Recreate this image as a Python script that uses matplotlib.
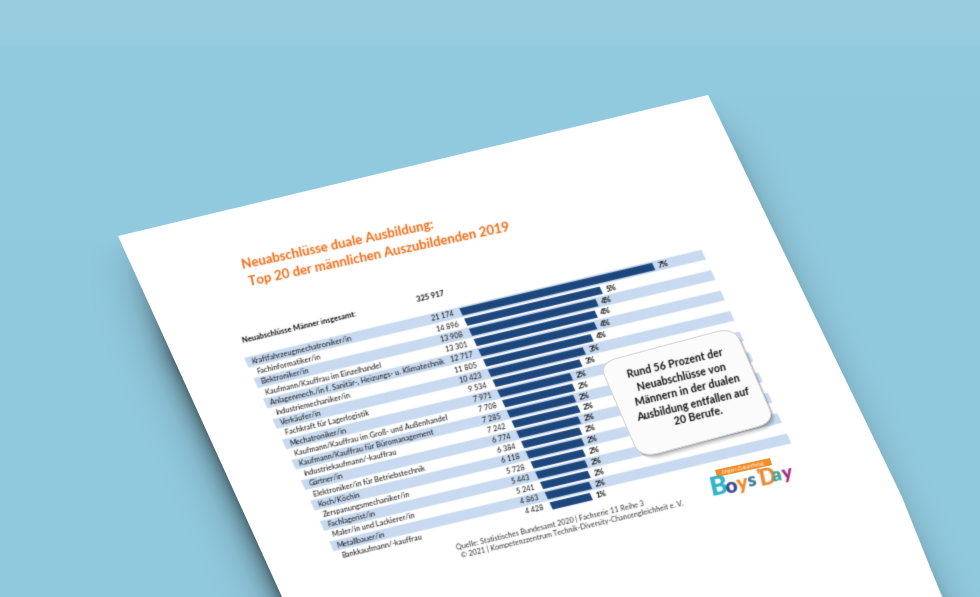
import numpy as np
import matplotlib
matplotlib.use('Agg')
import matplotlib.pyplot as plt
from matplotlib.patches import Polygon, FancyBboxPatch
from matplotlib.transforms import Affine2D

berufe = [
    'Kraftfahrzeugmechatroniker/in', 'Fachinformatiker/in', 'Elektroniker/in',
    'Kaufmann/Kauffrau im Einzelhandel',
    'Anlagenmech./in f. Sanitär-, Heizungs- u. Klimatechnik',
    'Industriemechaniker/in', 'Verkäufer/in', 'Fachkraft für Lagerlogistik',
    'Mechatroniker/in', 'Kaufmann/Kauffrau im Groß- und Außenhandel',
    'Kaufmann/Kauffrau für Büromanagement', 'Industriekaufmann/-kauffrau',
    'Gärtner/in', 'Elektroniker/in für Betriebstechnik', 'Koch/Köchin',
    'Zerspanungsmechaniker/in', 'Fachlagerist/in', 'Maler/in und Lackierer/in',
    'Metallbauer/in', 'Bankkaufmann/-kauffrau',
]
neuabschluesse = [21174, 14896, 13908, 13301, 12717, 11805, 10423, 9534, 7971, 7708,
                  7285, 7242, 6774, 6384, 6118, 5728, 5443, 5241, 4863, 4428]
prozent = [7, 5, 4, 4, 4, 4, 3, 3, 2, 2, 2, 2, 2, 2, 2, 2, 2, 2, 2, 1]
gesamt = 325917
titel = ['Neuabschlüsse duale Ausbildung:', 'Top 20 der männlichen Auszubildenden 2019']
quelle = ['Quelle: Statistisches Bundesamt 2020 | Fachserie 11 Reihe 3',
          '© 2021 | Kompetenzzentrum Technik-Diversity-Chancengleichheit e. V.']
hinweis = ['Rund 56 Prozent der', 'Neuabschlüsse von', 'Männern in der dualen',
           'Ausbildung entfallen auf', '20 Berufe.']

W, H = 980, 597
ROT = 13.3
NAVY = '#1c467c'
STRIPE = '#c8daf0'
ORANGE = '#f26a12'
TEXT = '#111111'


def fmt(v):
    return f'{v:,}'.replace(',', ' ')


def soft(im, dpi, sigma=0.55, pad=3):
    # the picture is a scaled screenshot, so everything on the sheet is a bit blurred
    im = np.pad(im, [(pad, pad), (pad, pad), (0, 0)], 'constant')
    x = np.arange(-pad, pad + 1)
    k = np.exp(-x ** 2 / (2 * sigma ** 2))
    k /= k.sum()
    rgba = im.copy()
    rgba[..., :3] *= rgba[..., 3:]
    for axis in (0, 1):
        rgba = np.apply_along_axis(lambda m: np.convolve(m, k, mode='same'), axis, rgba)
    a = np.maximum(rgba[..., 3:], 1e-4)
    rgba[..., :3] = np.clip(rgba[..., :3] / a, 0, 1)
    return rgba, -pad, -pad


fig = plt.figure(figsize=(W / 100, H / 100), dpi=100)
ax = fig.add_axes([0, 0, 1, 1])
ax.axis('off')

# background with the lighter band on top and the shadow of the sheet
yy, xx = np.mgrid[0:H, 0:W]
bg = np.zeros((H, W, 3))
bg[..., 0], bg[..., 1], bg[..., 2] = 145, 201, 222
bg[yy < 46] = [151, 204, 223]
left_dist = (xx - 118) - (yy - 236) * 164 / 361
fade = np.clip((yy - 240) / 120, 0, 1)
left_sh = np.exp(np.minimum(left_dist, 0) / 14) * fade * (left_dist < 0)
right_dist = (xx - 708) - (yy - 95) * 234 / 502
right_sh = np.exp(-np.maximum(right_dist, 0) / 12) * (right_dist > 0) * np.clip((yy - 95) / 60, 0, 1)
shade = 1 - 0.5 * left_sh - 0.14 * right_sh
bg = bg * shade[..., None]
ax.imshow(bg.astype(np.uint8), extent=[0, W, H, 0], aspect='auto', zorder=0, interpolation='bilinear')

ax.add_patch(Polygon([(118, 236), (708, 95), (865, 420), (902, 497), (942, 597), (282, 597)],
                     closed=True, fc='white', ec='none', zorder=1))

# value/row -> picture, the chart sits rotated on the sheet
tr = Affine2D().from_values(0.0091, -0.00215, 4.74, 10.21, 461, 312) + ax.transData

rows = np.arange(len(berufe))
stripes = ax.barh(rows[::2], [50280] * len(rows[::2]), left=-23600, height=0.95, color=STRIPE,
                  transform=tr, zorder=2)
bars = ax.barh(rows, neuabschluesse, height=0.7, color=NAVY, transform=tr, zorder=3)
for p in list(stripes) + list(bars):
    p.set_agg_filter(soft)

kw = dict(transform=tr, rotation=ROT, rotation_mode='anchor', va='center', zorder=4,
          family='Lato', color=TEXT)
for i, (name, val, pct) in enumerate(zip(berufe, neuabschluesse, prozent)):
    ax.text(-23000, i, name, ha='left', fontsize=5.4, **kw)
    ax.text(-800, i, fmt(val), ha='right', fontsize=5.2, **kw)
    ax.text(val + 500, i, f'{pct}%', ha='left', fontsize=5.6, fontweight='bold', **kw)
ax.text(-23000, -2, 'Neuabschlüsse Männer insgesamt:', ha='left', fontsize=5.5, fontweight='bold', **kw)
ax.text(-800, -2, fmt(gesamt), ha='right', fontsize=5.5, fontweight='bold', **kw)

for (x, y), s in zip([(243, 269), (250, 286)], titel):
    ax.text(x, y, s, color=ORANGE, fontsize=9.5, fontweight='bold', family='Lato',
            rotation=12, rotation_mode='anchor', va='baseline', ha='left', zorder=4)

for (x, y), s in zip([(457, 550), (462, 558)], quelle):
    ax.text(x, y, s, color='#333333', fontsize=5.2, family='Lato',
            rotation=ROT, rotation_mode='anchor', va='baseline', ha='left', zorder=4)

# callout
box = Affine2D().from_values(135, -36, 41, 95, 599, 363)
for off, alpha in zip([5, 4, 3, 2, 1], [0.05, 0.07, 0.1, 0.14, 0.18]):
    ax.add_patch(FancyBboxPatch((0, 0), 1, 1, boxstyle='round,pad=0,rounding_size=0.14',
                                transform=box + Affine2D().translate(off, off) + ax.transData,
                                fc='#404040', ec='none', alpha=alpha, zorder=5))
ax.add_patch(FancyBboxPatch((0, 0), 1, 1, boxstyle='round,pad=0,rounding_size=0.14',
                            transform=box + ax.transData, fc='#fbfbfb', ec='#d8d8d8', lw=0.8, zorder=6))
for (x, y), s in zip([(675, 363), (682, 377), (687, 390), (693, 404), (698, 416)], hinweis):
    ax.text(x, y, s, ha='center', va='center', rotation=ROT, rotation_mode='anchor',
            fontsize=7.7, fontweight='bold', family='Lato', color='#111111', zorder=7)

# logo
ax.add_patch(Polygon([(715, 470), (770, 458), (772, 465), (717, 477)], closed=True,
                     fc='#f28c28', ec='none', zorder=4))
ax.text(743.5, 467.5, 'Jungen-Zukunftstag', color='white', fontsize=3.6, family='Lato', ha='center',
        va='center', rotation=12, rotation_mode='anchor', zorder=5)
logo = ["B", "o", "y", "s", "'", "D", "a", "y"]
logo_x = [718, 731, 742, 752, 759, 767, 776, 786]
logo_y = [486, 486, 484, 481, 477, 478, 476, 474]
logo_size = [19, 15, 15, 14, 14, 16, 14, 14]
logo_c = ['#2fb4c6', '#3b4a8c', '#f08a24', '#3d7391', '#f08a24', '#e8892e', '#3fa39a', '#a6287f']
for ch, x, y, s, c in zip(logo, logo_x, logo_y, logo_size, logo_c):
    ax.text(x, y, ch, color=c, fontsize=s, fontweight='heavy', family='Lato', ha='center', va='center',
            rotation=12, rotation_mode='anchor', zorder=5)

# same softness for every text on the sheet
for t in ax.texts:
    t.set_agg_filter(soft)

ax.set_xlim(0, W)
ax.set_ylim(H, 0)
fig.savefig('out.png', dpi=100)
